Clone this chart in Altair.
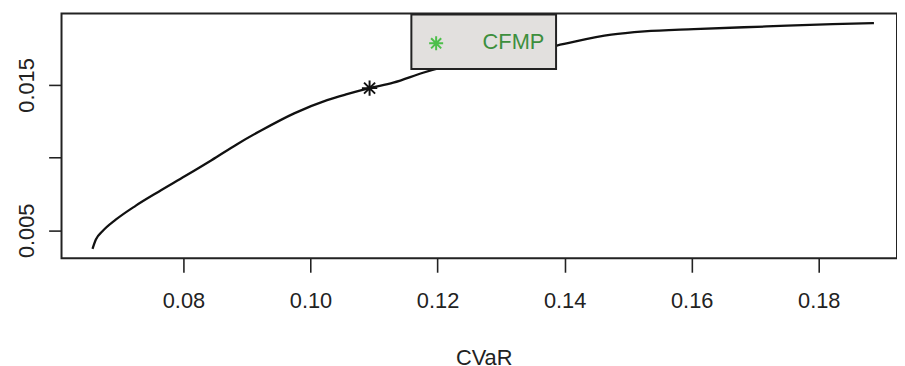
import altair as alt
import pandas as pd

# efficient frontier (CVaR vs mean return)
cvar = [0.06569, 0.06622, 0.06725, 0.06934, 0.07246, 0.0761, 0.08027, 0.08442,
        0.08858, 0.09222, 0.09743, 0.10262, 0.10574, 0.10928, 0.11303, 0.11771,
        0.13877, 0.14735, 0.15254, 0.16034, 0.17178, 0.18218, 0.18869]
ret = [0.00373, 0.004366, 0.004932, 0.005729, 0.006684, 0.007658, 0.008729, 0.009819,
       0.010958, 0.011864, 0.013044, 0.013957, 0.014366, 0.01478, 0.015157, 0.015838,
       0.01771, 0.018456, 0.01868, 0.01884, 0.01902, 0.01918, 0.01925]

star_cvar = [0.1093]
star_ret = [0.01478]

legend_labels = ["CFMP"]
x_ticks = [0.08, 0.10, 0.12, 0.14, 0.16, 0.18]
y_ticks = [0.005, 0.010, 0.015]

x_domain = [0.06081, 0.19232]
y_domain = [0.003071, 0.019908]

frontier = pd.DataFrame({"CVaR": cvar, "ret": ret})
star = pd.DataFrame({"CVaR": star_cvar, "ret": star_ret})
leg = pd.DataFrame({"label": legend_labels})

FONT = "Liberation Sans"
INK = "#222222"
ASTERISK = "M-1,0L1,0M0,-1L0,1M-0.72,-0.72L0.72,0.72M-0.72,0.72L0.72,-0.72"

xs = alt.Scale(domain=x_domain, nice=False, zero=False)
ys = alt.Scale(domain=y_domain, nice=False, zero=False)

x_axis = alt.Axis(values=x_ticks, format=".2f", title="CVaR", grid=False, domain=False,
                  tickSize=14, tickWidth=1.6, tickColor=INK, labelFont=FONT,
                  labelFontSize=22, labelColor=INK, labelPadding=19,
                  titleFont=FONT, titleFontSize=22, titleFontWeight="normal",
                  titleColor=INK, titlePadding=36, titleX=426)
y_axis = alt.Axis(values=y_ticks, title="", grid=False, domain=False,
                  labelExpr="abs(datum.value - 0.01) < 1e-6 ? '' : format(datum.value, '.3f')",
                  tickSize=13, tickWidth=1.6, tickColor=INK, labelFont=FONT,
                  labelFontSize=22, labelColor=INK, labelAngle=270, labelAlign="center",
                  labelBaseline="bottom", labelPadding=10)

line = alt.Chart(frontier).mark_line(color="#111111", strokeWidth=2.3,
                                     interpolate="monotone").encode(
    x=alt.X("CVaR:Q", scale=xs, axis=x_axis),
    y=alt.Y("ret:Q", scale=ys, axis=y_axis),
    order="CVaR:Q",
)

pt = alt.Chart(star).mark_point(shape=ASTERISK, size=240, filled=False,
                                color="#111111", strokeWidth=2, opacity=1).encode(
    x=alt.X("CVaR:Q", scale=xs),
    y=alt.Y("ret:Q", scale=ys),
)

box = alt.Chart(leg).mark_rect(fill="#e2e0de", stroke=INK, strokeWidth=2).encode(
    x=alt.value(353), x2=alt.value(499), y=alt.value(1), y2=alt.value(56)
)
leg_sym = alt.Chart(leg).mark_point(shape=ASTERISK, size=200, filled=False,
                                    color="#4cbf4a", strokeWidth=2, opacity=1).encode(
    x=alt.value(378), y=alt.value(30)
)
leg_txt = alt.Chart(leg).mark_text(font=FONT, fontSize=22, color="#3d8f3d",
                                   align="center", baseline="middle").encode(
    x=alt.value(456), y=alt.value(29), text="label:N"
)

chart = alt.layer(line, pt, box, leg_sym, leg_txt).properties(
    width=843, height=247,
    padding={"left": 54, "top": 4, "right": 0, "bottom": 107},
    autosize=alt.AutoSizeParams(type="none"),
    background="white",
).configure_view(stroke=INK, strokeWidth=2)

chart.save("out.html", embed_options={"renderer": "svg", "actions": False})
